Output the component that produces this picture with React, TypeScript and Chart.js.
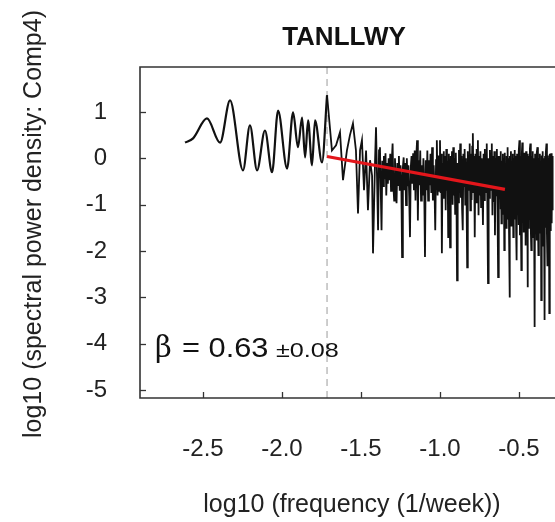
import React, { useEffect, useRef } from "react";
import { Chart, registerables } from "chart.js";

Chart.register(...registerables);

const titleText = "TANLLWY";
const yAxisLabel = "log10 (spectral power density: Comp4)";
const xAxisLabel = "log10 (frequency (1/week))";

const xTicks = [-2.5, -2.0, -1.5, -1.0, -0.5];
const yTicks = [1, 0, -1, -2, -3, -4, -5];

// Low-frequency (smooth) part of the spectrum
const smoothX = [-2.614, -2.563, -2.475, -2.392, -2.329, -2.247, -2.203, -2.158, -2.108, -2.063, -2.025, -1.968, -1.930, -1.899, -1.873, -1.854, -1.835, -1.810, -1.791, -1.747, -1.715];
const smoothY = [0.34, 0.43, 0.86, 0.34, 1.25, -0.26, 0.71, -0.26, 0.60, -0.30, 1.03, -0.22, 0.99, 0.24, 0.88, 0.02, 0.82, -0.15, 0.82, -0.09, 1.36];

// High-frequency part, segment A (-1.72 .. -1.39)
const segAX = [-1.715, -1.684, -1.658, -1.633, -1.614, -1.589, -1.570, -1.551, -1.532, -1.519, -1.506, -1.494, -1.481, -1.468, -1.456, -1.443, -1.430, -1.424, -1.411, -1.405, -1.392, -1.386];
const segAY = [1.36, 0.17, 0.28, 0.56, -0.47, 0.17, 0.50, 0.75, 0.17, -1.19, 0.17, 0.39, -0.69, 0.17, -1.12, -0.04, -0.37, -2.05, -0.04, 0.67, -1.55, 0.17];

// segment B (-1.38 .. -1.005)
const segBX = [
  -1.380, -1.375, -1.370, -1.365, -1.360, -1.355, -1.350, -1.345, -1.340, -1.335, -1.330, -1.325, -1.320, -1.315, -1.310, -1.305, -1.300, -1.295, -1.290, -1.285,
  -1.280, -1.275, -1.270, -1.265, -1.260, -1.255, -1.250, -1.245, -1.240, -1.235, -1.230, -1.225, -1.220, -1.215, -1.210, -1.205, -1.200, -1.195, -1.190, -1.185,
  -1.180, -1.175, -1.170, -1.165, -1.160, -1.155, -1.150, -1.145, -1.140, -1.135, -1.130, -1.125, -1.120, -1.115, -1.110, -1.105, -1.100, -1.095, -1.090, -1.085,
  -1.080, -1.075, -1.070, -1.065, -1.060, -1.055, -1.050, -1.045, -1.040, -1.035, -1.030, -1.025, -1.020, -1.015, -1.010, -1.005,
];
const segBY = [
  0.24, -0.69, -1.55, -0.05, -0.60, 0.05, -0.45, 0.11, -0.80, -0.10, -0.55, 0.00, -0.47, 0.10, -0.70, -0.05, 0.32, -0.60, -0.91, 0.00,
  -0.55, -0.97, -0.10, -0.58, 0.05, -0.70, -0.15, -0.45, -2.13, -0.20, 0.02, -0.69, -0.10, -1.01, 0.00, -0.60, -0.15, -0.80, -1.70, -0.20,
  0.05, -0.55, 0.11, -0.69, 0.17, -0.91, 0.05, 0.39, -1.34, -0.04, -0.58, 0.17, -0.91, -0.15, -0.80, 0.00, -0.60, -2.13, -0.04, -0.69,
  0.17, -0.91, -0.04, -0.58, 0.10, -0.75, 0.24, -0.91, -0.15, -0.60, -1.55, -0.04, 0.39, -0.80, 0.06, -0.70,
];

// segment C (-1.00 .. -0.624)
const segCX = [
  -1.000, -0.996, -0.992, -0.988, -0.984, -0.980, -0.976, -0.972, -0.968, -0.964, -0.960, -0.956, -0.952, -0.948, -0.944, -0.940, -0.936, -0.932, -0.928, -0.924,
  -0.920, -0.916, -0.912, -0.908, -0.904, -0.900, -0.896, -0.892, -0.888, -0.884, -0.880, -0.876, -0.872, -0.868, -0.864, -0.860, -0.856, -0.852, -0.848, -0.844,
  -0.840, -0.836, -0.832, -0.828, -0.824, -0.820, -0.816, -0.812, -0.808, -0.804, -0.800, -0.796, -0.792, -0.788, -0.784, -0.780, -0.776, -0.772, -0.768, -0.764,
  -0.760, -0.756, -0.752, -0.748, -0.744, -0.740, -0.736, -0.732, -0.728, -0.724, -0.720, -0.716, -0.712, -0.708, -0.704, -0.700, -0.696, -0.692, -0.688, -0.684,
  -0.680, -0.676, -0.672, -0.668, -0.664, -0.660, -0.656, -0.652, -0.648, -0.644, -0.640, -0.636, -0.632, -0.628, -0.624,
];
const segCY = [
  0.39, -0.75, 0.10, -2.05, -0.10, -0.85, 0.15, -0.60, 0.05, -1.12, 0.20, -0.70, -0.05, -1.70, 0.10, -0.90, -1.92, 0.05, -0.65, 0.15,
  -1.00, 0.24, -0.80, 0.00, -1.20, 0.12, -0.70, -2.63, -0.10, -0.95, 0.18, -0.75, 0.32, -0.85, 0.05, -1.10, -1.55, 0.10, -0.60, 0.20,
  -1.00, 0.00, -0.80, -2.35, 0.15, -0.70, 0.05, 0.32, -1.12, 0.10, -0.90, 0.25, 0.54, -0.75, 0.05, -1.70, 0.10, -0.95, 0.20, -0.65,
  0.39, -1.23, 0.05, -0.80, 0.15, -1.05, 0.00, -0.70, -1.44, 0.10, -0.90, 0.20, -0.75, 0.06, 0.32, -1.10, -2.69, 0.00, -0.85, 0.18,
  -0.70, 0.10, 0.32, -1.23, 0.05, -0.95, 0.15, -1.66, 0.00, -0.80, 0.20, -1.00, -2.56, 0.05, -0.75,
];

// segment D (-0.620 .. -0.287)
const segDX = [
  -0.620, -0.617, -0.614, -0.611, -0.608, -0.605, -0.602, -0.599, -0.596, -0.593, -0.590, -0.587, -0.584, -0.581, -0.578, -0.575, -0.572, -0.569, -0.566, -0.563,
  -0.560, -0.557, -0.554, -0.551, -0.548, -0.545, -0.542, -0.539, -0.536, -0.533, -0.530, -0.527, -0.524, -0.521, -0.518, -0.515, -0.512, -0.509, -0.506, -0.503,
  -0.500, -0.497, -0.494, -0.491, -0.488, -0.485, -0.482, -0.479, -0.476, -0.473, -0.470, -0.467, -0.464, -0.461, -0.458, -0.455, -0.452, -0.449, -0.446, -0.443,
  -0.440, -0.437, -0.434, -0.431, -0.428, -0.425, -0.422, -0.419, -0.416, -0.413, -0.410, -0.407, -0.404, -0.401, -0.398, -0.395, -0.392, -0.389, -0.386, -0.383,
  -0.380, -0.377, -0.374, -0.371, -0.368, -0.365, -0.362, -0.359, -0.356, -0.353, -0.350, -0.347, -0.344, -0.341, -0.338, -0.335, -0.332, -0.329, -0.326, -0.323,
  -0.320, -0.317, -0.314, -0.311, -0.308, -0.305, -0.302, -0.299, -0.296, -0.293, -0.290, -0.287,
];
const segDY = [
  0.05, -1.10, 0.15, -1.40, -0.05, -1.20, 0.10, -0.90, 0.00, -1.98, 0.12, -1.25, -0.10, -1.50, 0.05, -1.00, 0.24, -1.30, 0.00, -1.60,
  -3.00, 0.05, -1.15, 0.15, -1.45, -0.05, -1.10, 0.10, -1.70, 0.00, -1.30, 0.18, -1.00, 0.05, -1.55, -2.20, 0.10, -1.20, 0.00, -1.44,
  0.15, 0.39, -1.66, 0.05, -1.25, -2.41, 0.10, 0.34, -1.35, 0.00, -1.60, 0.12, -1.10, -0.05, -1.88, 0.15, -1.20, 0.00, -2.78, 0.10,
  -1.50, 0.05, -1.30, 0.20, 0.32, -1.55, -1.98, 0.05, -1.20, 0.15, -1.70, 0.00, -1.34, -3.64, 0.10, -1.45, 0.05, -1.77, 0.12, 0.24,
  -1.30, -2.09, 0.00, -1.60, 0.10, -1.20, -0.05, -3.06, 0.06, -1.55, 0.15, -1.88, 0.00, -1.40, -3.49, 0.05, -1.50, 0.10, 0.32, -1.65,
  -2.31, 0.06, -1.45, 0.00, -3.34, 0.10, -1.55, -0.05, 0.11, -1.40, 0.05, -1.12,
];

// Fitted power-law slope line
const fitX = [-1.715, -0.589];
const fitY = [0.04, -0.67];

// Cut-off frequency (dashed marker)
const cutoffX = -1.715;

const betaValue = "0.63";
const betaError = "±0.08";

const FONT = "'Liberation Sans', Arial, Helvetica, sans-serif";

export default function App() {
  const ref = useRef<HTMLCanvasElement | null>(null);

  useEffect(() => {
    const canvas = ref.current;
    if (!canvas) return;

    const yMin = -5.17;
    const yMax = 1.97;

    const denseX = [...segAX, ...segBX, ...segCX, ...segDX];
    const denseY = [...segAY, ...segBY, ...segCY, ...segDY];

    const textPlugin = {
      id: "frameText",
      afterDraw(chart: any) {
        const { ctx, chartArea: a, scales } = chart;
        const xs = scales.x;
        const ys = scales.y;
        ctx.save();
        ctx.strokeStyle = "#333";
        ctx.lineWidth = 1.6;
        ctx.beginPath();
        ctx.moveTo(a.right + 2, a.top);
        ctx.lineTo(a.left, a.top);
        ctx.lineTo(a.left, a.bottom);
        ctx.lineTo(a.right + 2, a.bottom);
        ctx.stroke();
        ctx.lineWidth = 1.3;
        xTicks.forEach((v) => {
          const px = Math.round(xs.getPixelForValue(v)) + 0.5;
          ctx.beginPath();
          ctx.moveTo(px, a.bottom);
          ctx.lineTo(px, a.bottom - 6);
          ctx.stroke();
        });
        yTicks.forEach((v) => {
          const py = Math.round(ys.getPixelForValue(v)) + 0.5;
          ctx.beginPath();
          ctx.moveTo(a.left, py);
          ctx.lineTo(a.left + 6, py);
          ctx.stroke();
        });

        ctx.fillStyle = "#111";
        ctx.textAlign = "center";
        ctx.textBaseline = "middle";
        ctx.font = `bold 26px ${FONT}`;
        ctx.fillText(titleText, 344, 38);

        ctx.fillStyle = "#222";
        ctx.font = `25px ${FONT}`;
        ctx.fillText(xAxisLabel, 352, 505);

        ctx.save();
        ctx.translate(34, 224);
        ctx.rotate(-Math.PI / 2);
        ctx.fillText(yAxisLabel, 0, 0);
        ctx.restore();

        // beta annotation
        ctx.textAlign = "left";
        ctx.textBaseline = "alphabetic";
        ctx.fillStyle = "#111";
        ctx.font = `29px 'DejaVu Serif', 'Liberation Serif', serif`;
        ctx.fillText("β", 155, 357);
        ctx.save();
        ctx.translate(182, 357);
        ctx.scale(1.1, 1);
        ctx.font = `28px ${FONT}`;
        ctx.fillText("= " + betaValue, 0, 0);
        ctx.restore();
        ctx.save();
        ctx.translate(276, 357);
        ctx.scale(1.2, 1);
        ctx.font = `21px ${FONT}`;
        ctx.fillText(betaError, 0, 0);
        ctx.restore();
        ctx.restore();
      },
    };

    const chart = new Chart(canvas, {
      type: "line",
      data: {
        datasets: [
          {
            label: "fit",
            data: fitX.map((x, i) => ({ x, y: fitY[i] })),
            borderColor: "#e3161b",
            borderWidth: 3.2,
            pointRadius: 0,
            order: 0,
          },
          {
            label: "low",
            data: smoothX.map((x, i) => ({ x, y: smoothY[i] })),
            borderColor: "#111",
            borderWidth: 2.2,
            pointRadius: 0,
            cubicInterpolationMode: "monotone",
            order: 1,
          },
          {
            label: "high",
            data: denseX.map((x, i) => ({ x, y: denseY[i] })),
            borderColor: "#111",
            borderWidth: 1.8,
            pointRadius: 0,
            tension: 0,
            order: 1,
          },
          {
            label: "cutoff",
            data: [
              { x: cutoffX, y: yMax },
              { x: cutoffX, y: yMin },
            ],
            borderColor: "#bdbdbd",
            borderWidth: 1.5,
            borderDash: [7, 5],
            pointRadius: 0,
            order: 3,
          },
        ],
      },
      options: {
        responsive: false,
        animation: false,
        layout: { padding: { top: 67, left: 0, right: 0, bottom: 0 } },
        plugins: {
          legend: { display: false },
          title: { display: false },
          tooltip: { enabled: false },
        },
        scales: {
          x: {
            type: "linear",
            min: -2.899,
            max: -0.272,
            grid: { display: false, drawTicks: false },
            border: { display: false },
            afterBuildTicks: (s: any) => {
              s.ticks = xTicks.map((v) => ({ value: v }));
            },
            afterFit: (s: any) => {
              s.height = 124;
              s.paddingLeft = 0;
              s.paddingRight = 0;
            },
            ticks: {
              padding: 37,
              color: "#222",
              font: { family: FONT, size: 24 },
              maxRotation: 0,
              callback: (v: any) => Number(v).toFixed(1),
            },
          },
          y: {
            type: "linear",
            min: yMin,
            max: yMax,
            grid: { display: false, drawTicks: false },
            border: { display: false },
            afterBuildTicks: (s: any) => {
              s.ticks = yTicks.map((v) => ({ value: v }));
            },
            afterFit: (s: any) => {
              s.width = 140;
              s.paddingTop = 0;
              s.paddingBottom = 0;
            },
            ticks: {
              padding: 33,
              color: "#222",
              font: { family: FONT, size: 24 },
              callback: (v: any) => String(v),
            },
          },
        },
      },
      plugins: [textPlugin],
    });

    return () => chart.destroy();
  }, []);

  return (
    <div style={{ position: "fixed", left: 0, top: 0, width: 555, height: 522, background: "#fff" }}>
      <canvas ref={ref} width={555} height={522} />
    </div>
  );
}
